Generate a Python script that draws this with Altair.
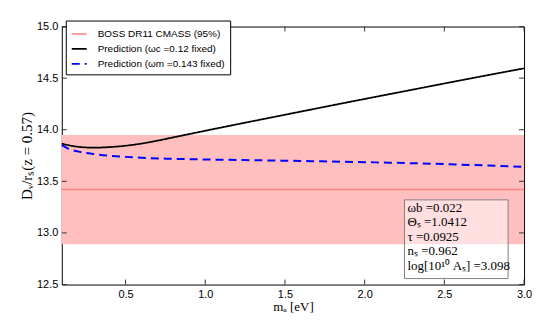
import altair as alt
import pandas as pd

# ---- data ----
x_black = [0.1, 0.2, 0.3, 0.4, 0.5, 0.6, 0.7, 0.8, 0.9, 1.0, 1.25, 1.5, 1.75, 2.0, 2.25, 2.5, 2.75, 3.0]
y_black = [13.865, 13.835, 13.826, 13.832, 13.845, 13.866, 13.894, 13.926, 13.958, 13.99, 14.068,
           14.145, 14.222, 14.298, 14.373, 14.448, 14.522, 14.595]
x_blue = [0.1, 0.15, 0.2, 0.3, 0.4, 0.5, 0.6, 0.8, 1.0, 1.5, 2.0, 2.5, 3.0]
y_blue = [13.85, 13.81, 13.79, 13.765, 13.748, 13.737, 13.728, 13.718, 13.712, 13.70, 13.686,
          13.667, 13.64]
boss_center = 13.42
boss_low = 12.89
boss_high = 13.95
x_range = [0.1, 3.0]
y_range = [12.5, 15.0]
x_ticks = [0.5, 1.0, 1.5, 2.0, 2.5, 3.0]
y_ticks = [12.5, 13.0, 13.5, 14.0, 14.5, 15.0]
series_names = ["BOSS DR11 CMASS (95%)",
                "Prediction (ωc =0.12 fixed)",
                "Prediction (ωm =0.143 fixed)"]
param_lines = ["ωb =0.022", "Θₛ =1.0412", "τ =0.0925", "nₛ =0.962", "log[10¹⁰ Aₛ] =3.098"]

W, H = 464, 259

rows = []
for xv in x_range:
    rows.append({"x": xv, "y": boss_center, "series": series_names[0]})
for xv, yv in zip(x_black, y_black):
    rows.append({"x": xv, "y": yv, "series": series_names[1]})
for xv, yv in zip(x_blue, y_blue):
    rows.append({"x": xv, "y": yv, "series": series_names[2]})
lines_df = pd.DataFrame(rows)

band_df = pd.DataFrame([{"x": x_range[0], "x2": x_range[1], "y": boss_low, "y2": boss_high}])
xt_df = pd.DataFrame({"x": x_ticks})
yt_df = pd.DataFrame({"y": y_ticks})
txt_df = pd.DataFrame({"text": ["\n".join(param_lines)]})

xscale = alt.Scale(domain=x_range, nice=False, zero=False)
yscale = alt.Scale(domain=y_range, nice=False, zero=False)
xaxis = alt.Axis(values=x_ticks, format=".1f", ticks=False, domain=False, grid=False,
                 labelFont="Liberation Sans", labelFontSize=11, labelColor="black",
                 labelPadding=4, labelFlush=False, title="mₐ [eV]",
                 titleFont="Liberation Serif", titleFontSize=13, titleFontWeight="normal",
                 titleColor="black", titlePadding=1)
yaxis = alt.Axis(values=y_ticks, format=".1f", ticks=False, domain=False, grid=False,
                 labelFont="Liberation Sans", labelFontSize=11, labelColor="black",
                 labelPadding=4, labelFlush=False, title="Dᵥ/rₛ(z = 0.57)",
                 titleFont="Liberation Serif", titleFontSize=15, titleFontWeight="normal",
                 titleColor="black", titlePadding=2)


def X(field="x"):
    return alt.X(f"{field}:Q", scale=xscale, axis=xaxis)


def Y(field="y"):
    return alt.Y(f"{field}:Q", scale=yscale, axis=yaxis)


band = alt.Chart(band_df).mark_rect(color="#ffbfbf").encode(
    x=X(), x2="x2:Q", y=Y(), y2="y2:Q")

legend = alt.Legend(title=None, orient="none", legendX=4, legendY=-6, symbolType="stroke",
                    symbolSize=225, symbolStrokeWidth=2, labelFont="Liberation Sans",
                    labelFontSize=10, labelColor="black", fillColor="white",
                    strokeColor="black", padding=5, rowPadding=1, labelOffset=10,
                    labelLimit=300)

lines = alt.Chart(lines_df).mark_line(interpolate="monotone").encode(
    x=X(), y=Y(),
    color=alt.Color("series:N", scale=alt.Scale(domain=series_names,
                    range=["#ff8080", "#000000", "#0000ff"]), legend=legend),
    strokeDash=alt.StrokeDash("series:N", scale=alt.Scale(domain=series_names,
                              range=[[1, 0], [1, 0], [8, 5]]), legend=legend),
    strokeWidth=alt.StrokeWidth("series:N", scale=alt.Scale(domain=series_names,
                                range=[1.5, 2, 2.5]), legend=None),
)

box = alt.Chart(txt_df).mark_rect(fill="white", fillOpacity=0.5, stroke="#808080",
                                   strokeWidth=1).encode(
    x=alt.value(344), x2=alt.value(448), y=alt.value(174), y2=alt.value(253))

txt = alt.Chart(txt_df).mark_text(lineBreak="\n", align="left", baseline="top",
                                   font="Liberation Serif", fontSize=13, lineHeight=14.6,
                                   color="black").encode(
    x=alt.value(347), y=alt.value(176), text="text:N")

tick_color = "#333333"
bt = alt.Chart(xt_df).mark_rule(color=tick_color).encode(x=X(), y=alt.value(H), y2=alt.value(H - 5))
tt = alt.Chart(xt_df).mark_rule(color=tick_color).encode(x=X(), y=alt.value(0), y2=alt.value(5))
lt = alt.Chart(yt_df).mark_rule(color=tick_color).encode(y=Y(), x=alt.value(0), x2=alt.value(5))
rt = alt.Chart(yt_df).mark_rule(color=tick_color).encode(y=Y(), x=alt.value(W), x2=alt.value(W - 5))

chart = alt.layer(band, lines, box, txt, bt, tt, lt, rt).properties(
    width=W, height=H,
    padding={"left": 11, "top": 11, "right": 5, "bottom": 5},
).configure_view(stroke="black", strokeWidth=1)

chart.save("out.html", embed_options={"renderer": "svg", "actions": False})
